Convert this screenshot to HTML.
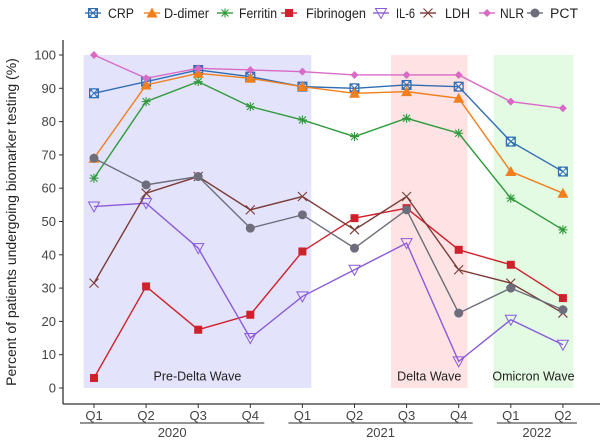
<!DOCTYPE html>
<html><head><meta charset="utf-8"><style>
body{margin:0;background:#fff;}
svg text{font-family:"Liberation Sans",Arial,sans-serif;}
</style></head><body>
<svg id="chart" width="600" height="442" viewBox="0 0 600 442" xmlns="http://www.w3.org/2000/svg">
<g id="bands"></g>
<g id="axes"></g>
<g id="series"></g>
<g id="legend"></g>
</svg>
<script>
const categories=["Q1","Q2","Q3","Q4","Q1","Q2","Q3","Q4","Q1","Q2"];
const years=["2020","2021","2022"];
const yTicks=[0,10,20,30,40,50,60,70,80,90,100];
const crp=[88.5,92,95.5,93.5,90.5,90,91,90.5,74,65];
const ddimer=[69,91,94.5,93,90.5,88.5,89,87,65,58.5];
const ferritin=[63,86,92,84.5,80.5,75.5,81,76.5,57,47.5];
const fibrinogen=[3,30.5,17.5,22,41,51,54,41.5,37,27];
const il6=[54.5,55.5,42,15,27.5,35.5,43.5,8,20.5,13];
const ldh=[31.5,58.5,63.5,53.5,57.5,47.5,57.5,35.5,31.5,22.5];
const nlr=[100,93,96,95.5,95,94,94,94,86,84];
const pct=[69,61,63.5,48,52,42,53.5,22.5,30,23.5];

const NS="http://www.w3.org/2000/svg";
function x(i){return 94+i*52.1;}
function y(v){return 388-3.33*v;}
function mk(tag,attrs,parent){const e=document.createElementNS(NS,tag);for(const k in attrs)e.setAttribute(k,attrs[k]);parent.appendChild(e);return e;}
const bands=document.getElementById('bands'),axes=document.getElementById('axes'),ser=document.getElementById('series'),leg=document.getElementById('legend');

const bandDefs=[[-0.2,4.17,"#e3e3fb","Pre-Delta Wave","pre-delta-band"],[5.7,7.17,"#fde3e3","Delta Wave","delta-band"],[7.67,9.2,"#e3fbe3","Omicron Wave","omicron-band"]];
bandDefs.forEach(b=>{
 const r=mk('rect',{x:x(b[0]),y:y(100),width:x(b[1])-x(b[0]),height:y(0)-y(100),fill:b[2]},bands);
 
 
 const t=mk('text',{x:(x(b[0])+x(b[1]))/2,y:y(2.2),'text-anchor':'middle','font-size':12.5,fill:'#222'},bands);t.textContent=b[3];
 
 
});
const ya=mk('line',{x1:63,y1:40,x2:63,y2:404,stroke:'#333','stroke-width':1.3},axes);


const xa=mk('line',{x1:63,y1:404,x2:600,y2:404,stroke:'#333','stroke-width':1.3},axes);


yTicks.forEach(v=>{
 mk('line',{x1:59,y1:y(v),x2:63,y2:y(v),stroke:'#333'},axes);
 const t=mk('text',{x:56,y:y(v)+4.5,'text-anchor':'end','font-size':13,fill:'#444'},axes);t.textContent=v;
 
 
});
categories.forEach((c,i)=>{
 mk('line',{x1:x(i),y1:404,x2:x(i),y2:408,stroke:'#333'},axes);
 const t=mk('text',{x:x(i),y:420,'text-anchor':'middle','font-size':13,fill:'#444'},axes);t.textContent=c;
 
 
});
[[0,3],[4,7],[8,9]].forEach((g,k)=>{
 mk('line',{x1:x(g[0])-14,y1:423,x2:x(g[1])+14,y2:423,stroke:'#555','stroke-width':1.3},axes);
 const t=mk('text',{x:(x(g[0])+x(g[1]))/2,y:437,'text-anchor':'middle','font-size':13,fill:'#444'},axes);t.textContent=years[k];
 
 
});
const yt=mk('text',{transform:'translate(16,222) rotate(-90)','text-anchor':'middle','font-size':14,fill:'#222'},axes);
yt.textContent='Percent of patients undergoing biomarker testing (%)';



function marker(type,cx,cy,col,g){
 const s=4.5;
 if(type==='crp'){mk('rect',{x:cx-s,y:cy-s,width:2*s,height:2*s,fill:'none',stroke:col},g);mk('circle',{cx,cy,r:s,fill:'none',stroke:col},g);mk('path',{d:`M${cx-s} ${cy-s}L${cx+s} ${cy+s}M${cx-s} ${cy+s}L${cx+s} ${cy-s}`,stroke:col},g);}
 else if(type==='tri')mk('path',{d:`M${cx} ${cy-5.5}L${cx+5.5} ${cy+4.5}L${cx-5.5} ${cy+4.5}Z`,fill:col},g);
 else if(type==='star')mk('path',{d:`M${cx-s} ${cy}L${cx+s} ${cy}M${cx} ${cy-s}L${cx} ${cy+s}M${cx-3.5} ${cy-3.5}L${cx+3.5} ${cy+3.5}M${cx-3.5} ${cy+3.5}L${cx+3.5} ${cy-3.5}`,stroke:col,'stroke-width':1.1},g);
 else if(type==='sq')mk('rect',{x:cx-4,y:cy-4,width:8,height:8,fill:col},g);
 else if(type==='dtri')mk('path',{d:`M${cx-5.5} ${cy-4.5}L${cx+5.5} ${cy-4.5}L${cx} ${cy+5.5}Z`,fill:'none',stroke:col},g);
 else if(type==='x')mk('path',{d:`M${cx-s} ${cy-s}L${cx+s} ${cy+s}M${cx-s} ${cy+s}L${cx+s} ${cy-s}`,stroke:col,'stroke-width':1.1},g);
 else if(type==='dia')mk('path',{d:`M${cx} ${cy-4}L${cx+4} ${cy}L${cx} ${cy+4}L${cx-4} ${cy}Z`,fill:col},g);
 else if(type==='dot')mk('circle',{cx,cy,r:4.5,fill:col},g);
}
const seriesDefs=[
 ["CRP",crp,"#2f6db3","crp",93,108,26],
 ["D-dimer",ddimer,"#f07f1c","tri",152,164,45],
 ["Ferritin",ferritin,"#2e9a3a","star",225,239,38],
 ["Fibrinogen",fibrinogen,"#d0202c","sq",289,306,60],
 ["IL-6",il6,"#8a5bd8","dtri",381,396,19],
 ["LDH",ldh,"#7b3b36","x",428,445,25],
 ["NLR",nlr,"#d96ac6","dia",487,500,24],
 ["PCT",pct,"#6d6d7b","dot",535,550,28]];
seriesDefs.forEach(s=>{
 const g=mk('g',{},ser);
 
 
 mk('polyline',{points:s[1].map((v,i)=>x(i)+','+y(v)).join(' '),fill:'none',stroke:s[2],'stroke-width':1.4},g);
 s[1].forEach((v,i)=>marker(s[3],x(i),y(v),s[2],g));
 const lg=mk('g',{},leg);
 
 
 mk('line',{x1:s[4]-8,y1:13,x2:s[4]+8,y2:13,stroke:s[2],'stroke-width':1.4},lg);
 marker(s[3],s[4],13,s[2],lg);
 const t=mk('text',{x:s[5],y:18,'font-size':13.5,fill:'#222',textLength:s[6],lengthAdjust:'spacingAndGlyphs'},lg);t.textContent=s[0];
});
</script>
</body></html>
